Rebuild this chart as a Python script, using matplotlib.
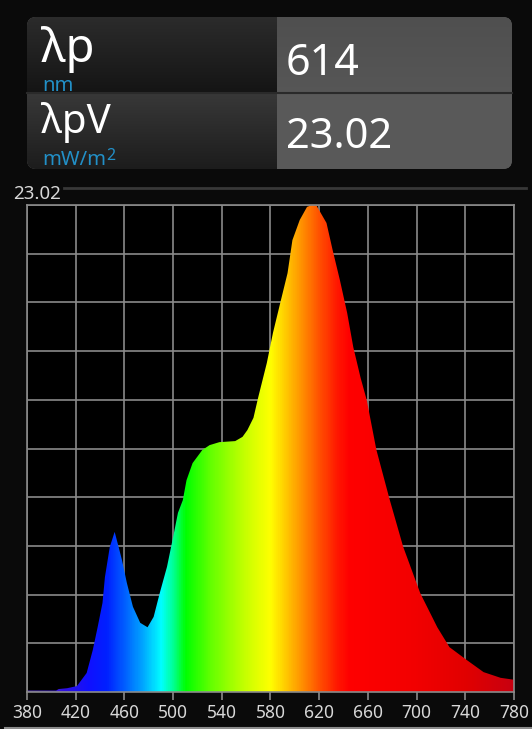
import numpy as np
import matplotlib
matplotlib.use("Agg")
import matplotlib.pyplot as plt
from matplotlib.colors import LinearSegmentedColormap, to_rgb
from matplotlib.patches import FancyBboxPatch, Polygon

plt.rcParams['font.family'] = ['Noto Sans', 'DejaVu Sans']

# ---------------- data ----------------
wavelength_nm = [380, 404, 406, 413, 421, 429, 434, 438, 442, 444, 448, 452, 455,
                 458, 462, 467, 473, 479, 484, 489, 495, 500, 504, 508, 511, 516,
                 524, 530, 538, 551, 557, 561, 566, 570, 577, 582, 588, 594, 598,
                 604, 610, 614, 618, 626, 631, 637, 643, 648, 654, 659, 667, 678,
                 689, 703, 717, 727, 741, 755, 769, 780]
irradiance = [0.07, 0.07, 0.14, 0.18, 0.28, 0.90, 1.98, 3.06, 4.21, 5.43, 6.86, 7.57, 6.91,
              6.24, 5.16, 4.03, 3.27, 3.06, 3.55, 4.67, 5.92, 7.32, 8.47, 9.07, 10.01, 10.82,
              11.44, 11.67, 11.81, 11.86, 12.06, 12.38, 12.96, 13.95, 15.56, 16.97, 18.39, 19.80, 21.36,
              22.31, 22.93, 23.02, 22.97, 22.17, 20.90, 19.47, 17.91, 16.30, 14.85, 13.81, 11.44, 9.07,
              6.86, 4.67, 3.06, 2.12, 1.52, 0.94, 0.67, 0.58]
x_ticks = [380, 420, 460, 500, 540, 580, 620, 660, 700, 740, 780]
peak_label = "λp"
peak_unit = "nm"
peak_value = "614"
value_label = "λpV"
value_unit = "mW/m"
value_value = "23.02"
y_max = 23.02
y_divisions = 10

# spectral colour anchors (style)
spec_wl = [380, 410, 430, 445, 460, 475, 490, 500, 510, 530, 550, 565, 580, 595, 605, 620, 635, 645, 700, 740, 780]
spec_col = ['#6040c8', '#3010e0', '#1010ff', '#0020ff', '#0060ff', '#00a8ff', '#00ffff', '#00ff90',
            '#00ff00', '#60ff00', '#a8ff00', '#d8ff00', '#ffff00', '#ffc000', '#ff9400', '#ff5200',
            '#ff1800', '#ff0000', '#f20000', '#e20000', '#c80010']

W, H = 532, 729
fig = plt.figure(figsize=(W / 100, H / 100), dpi=100, facecolor='#0a0a0a')

# ---------- overlay in pixel coordinates for the header panel ----------
ov = fig.add_axes([0, 0, 1, 1])
ov.set_xlim(0, W)
ov.set_ylim(H, 0)
ov.axis('off')

px_l, px_r, px_t, px_b, px_mid, px_row = 27, 512, 17, 169, 277, 93
panel = FancyBboxPatch((px_l, px_t), px_r - px_l, px_b - px_t,
                       boxstyle='round,pad=0,rounding_size=9', fc='#575757', ec='none', zorder=1)
ov.add_patch(panel)

# right column shading
n = px_b - px_t
rc = np.zeros((n, 1, 3))
for i in range(n):
    y = px_t + i
    if y < px_row:
        c = 0.31 + 0.03 * (y - px_t) / (px_row - px_t)
    else:
        c = 0.35
    rc[i, 0, :] = c
im_r = ov.imshow(rc, extent=(px_mid, px_r, px_b, px_t), aspect='auto',
                 interpolation='bilinear', zorder=2)
im_r.set_clip_path(panel)

# left column gradient stripes
lc = np.zeros((n, 1, 3))
for i in range(n):
    y = px_t + i
    if y < px_row:
        f = (y - px_t) / (px_row - px_t)
        c = 0.17 - 0.09 * f
    else:
        f = (y - px_row) / (px_b - px_row)
        c = 0.22 - 0.11 * f
    lc[i, 0, :] = c
im_l = ov.imshow(lc, extent=(px_l, px_mid, px_b, px_t), aspect='auto',
                 interpolation='bilinear', zorder=2)
im_l.set_clip_path(panel)
ov.plot([px_l, px_r], [px_row, px_row], color='#2a2a2a', lw=1.5, zorder=3)

ov.set_xlim(0, W)
ov.set_ylim(H, 0)

ov.text(41, 62, peak_label, fontsize=34, color='white', va='baseline', zorder=4)
ov.text(42, 91, peak_unit, fontsize=14.5, color='#2290c8', va='baseline', zorder=4)
ov.text(41, 133, value_label, fontsize=29, color='white', va='baseline', zorder=4)
tu = ov.text(42, 165, value_unit, fontsize=14.5, color='#2290c8', va='baseline', zorder=4)
ov.annotate('2', xy=(1.0, 0.0), xycoords=tu, xytext=(0.5, 7.5), textcoords='offset points',
            fontsize=11.5, color='#2290c8', va='baseline', ha='left', zorder=4)
ov.text(286, 75, peak_value, fontsize=31, color='white', va='baseline', zorder=4)
ov.text(286, 148, value_value, fontsize=30, color='white', va='baseline', zorder=4)

# separator line and top-left max label
ov.plot([64, 526], [188, 188], color='#383838', lw=2)
ov.text(13, 199, value_value, fontsize=13.5, color='#d8d8d8', va='baseline')
ov.plot([5, W], [727.5, 727.5], color='#8c8c8c', lw=1.5)

# ---------------- spectrum axes ----------------
ax = fig.add_axes([27 / W, (H - 692) / H, 487 / W, 487 / H], facecolor='black')
ax.set_xlim(x_ticks[0], x_ticks[-1])
ax.set_ylim(0, y_max)
ax.set_xticks(x_ticks)
ax.set_yticks(np.linspace(0, y_max, y_divisions + 1))
ax.grid(True, color='#8a8a8a', lw=1.2)
ax.set_axisbelow(True)
for s in ax.spines.values():
    s.set_color('#8a8a8a')
    s.set_linewidth(1.2)
ax.tick_params(axis='x', colors='#8a8a8a', labelcolor='#d8d8d8', length=6, width=1.2,
               labelsize=12.5, pad=3)
ax.tick_params(axis='y', length=0, labelleft=False)

cmap = LinearSegmentedColormap.from_list(
    'spec', [((w - spec_wl[0]) / (spec_wl[-1] - spec_wl[0]), to_rgb(c)) for w, c in zip(spec_wl, spec_col)])
grad = cmap(np.linspace(0, 1, 800))[None, :, :3]

verts = [(wavelength_nm[0], 0)] + list(zip(wavelength_nm, irradiance)) + [(wavelength_nm[-1], 0)]
shape = Polygon(verts, closed=True, fc='none', ec='none')
ax.add_patch(shape)
im = ax.imshow(grad, extent=(x_ticks[0], x_ticks[-1], 0, y_max), aspect='auto',
               origin='lower', zorder=2, interpolation='bilinear')
im.set_clip_path(shape)
ax.set_xlim(x_ticks[0], x_ticks[-1])
ax.set_ylim(0, y_max)

fig.savefig('out.png', dpi=100, facecolor=fig.get_facecolor())
